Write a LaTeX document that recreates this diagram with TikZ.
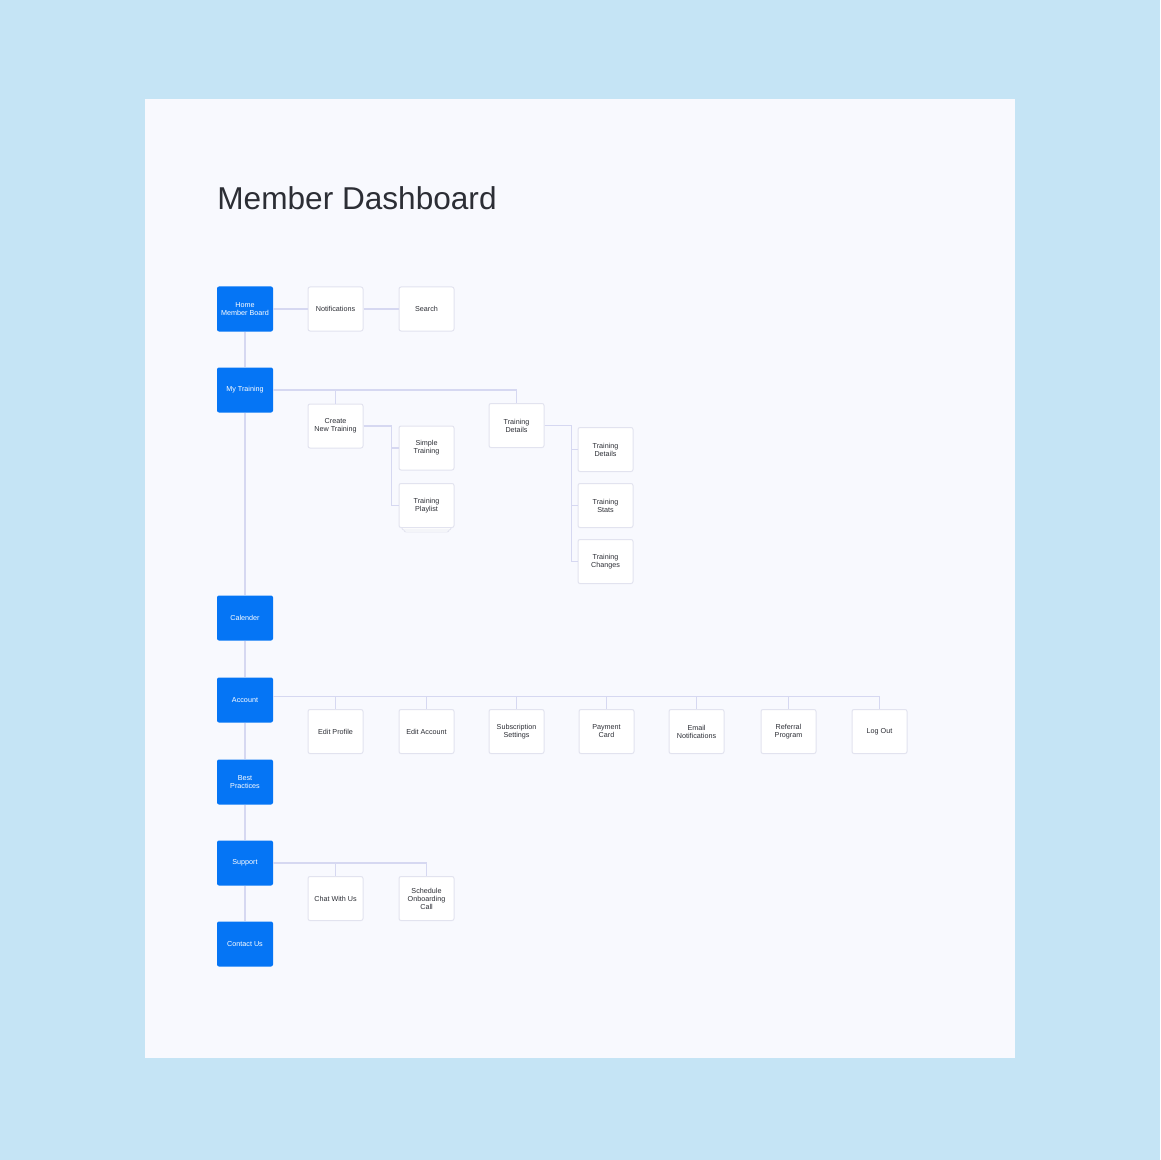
\documentclass[tikz,border=0pt]{standalone}
\usepackage{fontspec}
\setmainfont{Liberation Sans}
\definecolor{skyback}{HTML}{C5E4F5}
\definecolor{sheet}{HTML}{F8F9FE}
\definecolor{navblue}{HTML}{0575F5}
\definecolor{boxline}{HTML}{E2E3EF}
\definecolor{linkline}{HTML}{D6D8F1}
\definecolor{inktext}{HTML}{2C2E35}

\begin{document}
\begin{tikzpicture}[x=0.5pt, y=-0.5pt,
    mainbox/.style={rectangle, rounded corners=1pt, fill=navblue, text=white, minimum width=28pt, minimum height=22.5pt, inner sep=0pt, align=center, font=\fontsize{3.6}{4}\selectfont},
    subbox/.style={rectangle, rounded corners=1pt, fill=white, draw=boxline, line width=0.5pt, text=inktext, minimum width=27.5pt, minimum height=22pt, inner sep=0pt, align=center, font=\fontsize{3.6}{4}\selectfont},
    link/.style={draw=linkline, line width=0.7pt}]

        % page
        \fill[skyback] (0, 0) rectangle (1160, 1160);
        \useasboundingbox (0, 0) rectangle (1160, 1160);
        \fill[sheet] (145, 99) rectangle (1015, 1058);

        \node[anchor=base west, inner sep=0pt, text=inktext, font=\fontsize{15.8}{18}\selectfont] (title) at (217, 210) {Member Dashboard};

        % main column
        \node[mainbox] (home) at (245, 309) {Home\\Member Board};
        \node[mainbox] (training) at (245, 390) {My Training};
        \node[mainbox] (calender) at (245, 618) {Calender};
        \node[mainbox] (account) at (245, 700) {Account};
        \node[mainbox] (best) at (245, 782) {Best\\Practices};
        \node[mainbox] (support) at (245, 863) {Support};
        \node[mainbox] (contact) at (245, 944) {Contact Us};

        % home row
        \node[subbox] (notif) at (335.5, 309) {Notifications};
        \node[subbox] (search) at (426.5, 309) {Search};

        % training
        \node[subbox] (create) at (335.5, 426) {Create\\New Training};
        \node[subbox] (simple) at (426.5, 448) {Simple\\Training};
        \draw[fill=white, draw=boxline, line width=0.4pt, rounded corners=1pt] (404, 492) rectangle (449, 532);
        \draw[fill=white, draw=boxline, line width=0.4pt, rounded corners=1pt] (402, 490) rectangle (451, 530);
        \node[subbox] (playlist) at (426.5, 505.5) {Training\\Playlist};
        \node[subbox] (tdet) at (516.5, 425.5) {Training\\Details};
        \node[subbox] (tdA) at (605.5, 449.5) {Training\\Details};
        \node[subbox] (tdB) at (605.5, 505.5) {Training\\Stats};
        \node[subbox] (tdC) at (605.5, 561.5) {Training\\Changes};

        % account row
        \node[subbox] (eprof) at (335.5, 731.5) {Edit Profile};
        \node[subbox] (eacc) at (426.5, 731.5) {Edit Account};
        \node[subbox] (subs) at (516.5, 731.5) {Subscription\\Settings};
        \node[subbox] (pay) at (606.5, 731.5) {Payment\\Card};
        \node[subbox] (email) at (696.5, 731.5) {Email\\Notifications};
        \node[subbox] (refer) at (788.5, 731.5) {Referral\\Program};
        \node[subbox] (logout) at (879.5, 731.5) {Log Out};

        % support row
        \node[subbox] (chat) at (335.5, 898.5) {Chat With Us};
        \node[subbox] (sched) at (426.5, 898.5) {Schedule\\Onboarding\\Call};

        % links
        \draw[link] (home) -- (training) -- (calender) -- (account) -- (best) -- (support) -- (contact);
        \draw[link] (home) -- (notif) -- (search);

        \draw[link] (training) -| (tdet);
        \draw[link] (training) -| (create);
        \draw[link] (create.east) -- ++(28, 0) |- (simple);
        \draw[link] (create.east) -- ++(28, 0) |- (playlist);
        \foreach \t in {tdA, tdB, tdC}
            \draw[link] (tdet.east) -- ++(27, 0) |- (\t);

        \foreach \a in {eprof, eacc, subs, pay, email, refer, logout}
            \draw[link] ([yshift=1.75pt]account.east) -| (\a);

        \draw[link] (support) -| (chat);
        \draw[link] (support) -| (sched);

    \end{tikzpicture}
\end{document}
